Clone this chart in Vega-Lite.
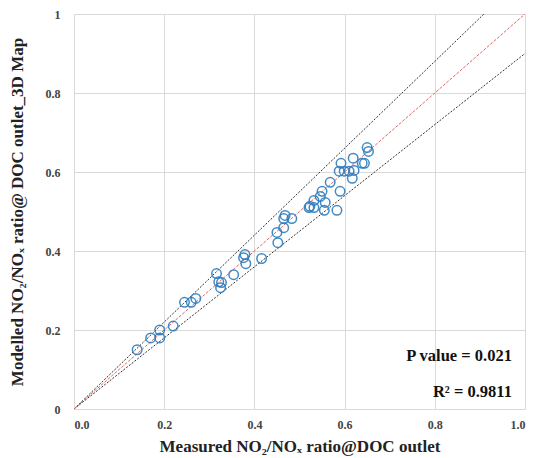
{
  "$schema": "https://vega.github.io/schema/vega-lite/v6.json",
  "width": 451,
  "height": 395,
  "autosize": "none",
  "padding": {"left": 74, "top": 14, "right": 13, "bottom": 49},
  "background": "white",
  "config": {
    "view": {"stroke": null},
    "font": "Liberation Serif",
    "axis": {
      "gridColor": "#d9d9d9",
      "gridWidth": 1,
      "domain": false,
      "ticks": false,
      "labelFont": "Liberation Serif",
      "labelFontWeight": "bold",
      "labelFontSize": 12,
      "labelColor": "#444444",
      "titleFont": "Liberation Serif",
      "titleFontWeight": "bold",
      "titleFontSize": 17,
      "titleColor": "#222222"
    }
  },
  "datasets": {
    "points": [
      {"measured": 0.14, "modelled": 0.15},
      {"measured": 0.17, "modelled": 0.18},
      {"measured": 0.19, "modelled": 0.18},
      {"measured": 0.19, "modelled": 0.20},
      {"measured": 0.22, "modelled": 0.21},
      {"measured": 0.245, "modelled": 0.27},
      {"measured": 0.26, "modelled": 0.27},
      {"measured": 0.27, "modelled": 0.28},
      {"measured": 0.316, "modelled": 0.343},
      {"measured": 0.321, "modelled": 0.322},
      {"measured": 0.327, "modelled": 0.32},
      {"measured": 0.325, "modelled": 0.307},
      {"measured": 0.354, "modelled": 0.34},
      {"measured": 0.379, "modelled": 0.391},
      {"measured": 0.376, "modelled": 0.383},
      {"measured": 0.381, "modelled": 0.368},
      {"measured": 0.416, "modelled": 0.381},
      {"measured": 0.452, "modelled": 0.421},
      {"measured": 0.45, "modelled": 0.447},
      {"measured": 0.465, "modelled": 0.459},
      {"measured": 0.468, "modelled": 0.49},
      {"measured": 0.465, "modelled": 0.482},
      {"measured": 0.483, "modelled": 0.482},
      {"measured": 0.523, "modelled": 0.513},
      {"measured": 0.521, "modelled": 0.51},
      {"measured": 0.532, "modelled": 0.51},
      {"measured": 0.532, "modelled": 0.528},
      {"measured": 0.546, "modelled": 0.538},
      {"measured": 0.55, "modelled": 0.551},
      {"measured": 0.557, "modelled": 0.523},
      {"measured": 0.555, "modelled": 0.503},
      {"measured": 0.583, "modelled": 0.503},
      {"measured": 0.568, "modelled": 0.574},
      {"measured": 0.59, "modelled": 0.551},
      {"measured": 0.588, "modelled": 0.602},
      {"measured": 0.592, "modelled": 0.622},
      {"measured": 0.599, "modelled": 0.602},
      {"measured": 0.61, "modelled": 0.602},
      {"measured": 0.621, "modelled": 0.604},
      {"measured": 0.617, "modelled": 0.584},
      {"measured": 0.619, "modelled": 0.635},
      {"measured": 0.639, "modelled": 0.622},
      {"measured": 0.644, "modelled": 0.622},
      {"measured": 0.65, "modelled": 0.662},
      {"measured": 0.653, "modelled": 0.652}
    ],
    "bounds": [
      {"x": 0, "y": 0, "line": "upper"},
      {"x": 0.909, "y": 1, "line": "upper"},
      {"x": 0, "y": 0, "line": "lower"},
      {"x": 1, "y": 0.9, "line": "lower"}
    ],
    "identity": [
      {"x": 0, "y": 0},
      {"x": 1, "y": 1}
    ],
    "notes": [
      {"x": 0.971, "y": 0.134, "label": "P value = 0.021"},
      {"x": 0.971, "y": 0.043, "label": "R² = 0.9811"}
    ]
  },
  "layer": [
    {
      "data": {"name": "bounds"},
      "mark": {"type": "line", "color": "#333333", "strokeWidth": 1, "strokeDash": [2, 1.5]},
      "encoding": {
        "x": {
          "field": "x", "type": "quantitative",
          "scale": {"domain": [0, 1], "nice": false},
          "axis": {"values": [0, 0.2, 0.4, 0.6, 0.8, 1], "format": ".1f", "labelPadding": 10, "title": "Measured NO₂/NOₓ ratio@DOC outlet", "titlePadding": 8}
        },
        "y": {
          "field": "y", "type": "quantitative",
          "scale": {"domain": [0, 1], "nice": false},
          "axis": {"values": [0, 0.2, 0.4, 0.6, 0.8, 1], "format": "~g", "labelPadding": 14, "title": "Modelled NO₂/NOₓ ratio@ DOC outlet_3D Map", "titlePadding": 19}
        },
        "detail": {"field": "line"}
      }
    },
    {
      "data": {"name": "identity"},
      "mark": {"type": "line", "color": "#e06666", "strokeWidth": 1, "strokeDash": [3, 1.5]},
      "encoding": {
        "x": {"field": "x", "type": "quantitative"},
        "y": {"field": "y", "type": "quantitative"}
      }
    },
    {
      "data": {"name": "points"},
      "mark": {"type": "point", "shape": "circle", "filled": false, "size": 90, "strokeWidth": 1.5, "color": "#2e7dbf", "opacity": 0.9},
      "encoding": {
        "x": {"field": "measured", "type": "quantitative"},
        "y": {"field": "modelled", "type": "quantitative"}
      }
    },
    {
      "data": {"name": "notes"},
      "mark": {"type": "text", "align": "right", "baseline": "middle", "font": "Liberation Serif", "fontWeight": "bold", "fontSize": 16.5, "color": "#111111"},
      "encoding": {
        "x": {"field": "x", "type": "quantitative"},
        "y": {"field": "y", "type": "quantitative"},
        "text": {"field": "label"}
      }
    }
  ]
}
